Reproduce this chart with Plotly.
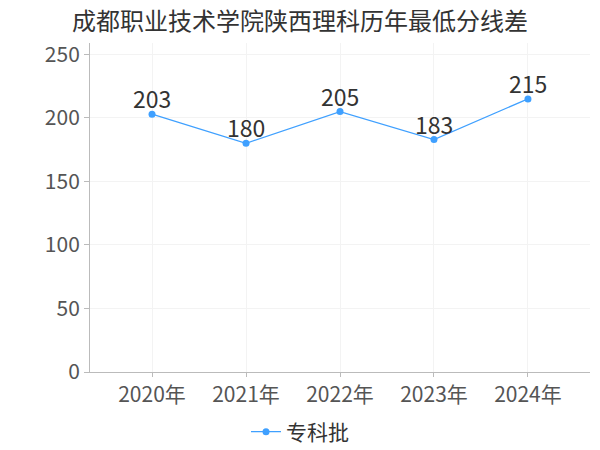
import plotly.graph_objects as go

years = ["2020年", "2021年", "2022年", "2023年", "2024年"]
scores = [203, 180, 205, 183, 215]
series_name = "专科批"
title = "成都职业技术学院陕西理科历年最低分线差"

FONT = "Noto Sans CJK SC, Microsoft YaHei, sans-serif"

xs = list(range(len(years)))

fig = go.Figure()
fig.add_trace(go.Scatter(
    x=xs, y=scores, name=series_name,
    mode="lines+markers",
    line=dict(color="#3fa0ff", width=1.2),
    marker=dict(color="#3fa0ff", size=7),
))
for xi, v in zip(xs, scores):
    fig.add_annotation(x=xi, y=v, text=str(v), showarrow=False,
                       xanchor="center", yanchor="bottom", yshift=-3,
                       font=dict(size=23, color="#333333", family=FONT))

fig.update_layout(
    width=600, height=450,
    margin=dict(l=90, r=10, t=43, b=78),
    paper_bgcolor="white", plot_bgcolor="white",
    title=dict(text=title, x=0.5, xanchor="center", y=0.97, yanchor="top",
               font=dict(size=24, color="#333333", family=FONT)),
    showlegend=True,
    legend=dict(orientation="h", xref="container", x=0.5, xanchor="center",
                yref="container", y=18 / 450, yanchor="middle",
                font=dict(size=21, color="#333333", family=FONT)),
    font=dict(family=FONT),
)
fig.update_xaxes(
    range=[-0.66, 4.66], tickvals=xs, ticktext=years, automargin=False,
    showgrid=True, gridcolor="#f3f3f3", gridwidth=1,
    showline=True, linecolor="#bbbbbb", linewidth=1,
    ticks="outside", ticklen=4, tickcolor="#bbbbbb",
    tickfont=dict(size=21, color="#555555", family=FONT), zeroline=False,
)
fig.update_yaxes(
    range=[0, 259], tickvals=[0, 50, 100, 150, 200, 250], automargin=False,
    showgrid=True, gridcolor="#f3f3f3", gridwidth=1,
    showline=True, linecolor="#bbbbbb", linewidth=1,
    ticks="outside", ticklen=5, tickcolor="#bbbbbb",
    tickfont=dict(size=21, color="#555555", family=FONT), zeroline=False,
)

fig.write_html("out.html", config={"displayModeBar": False},
               post_script="document.body.style.margin='0';document.body.style.padding='0';")
